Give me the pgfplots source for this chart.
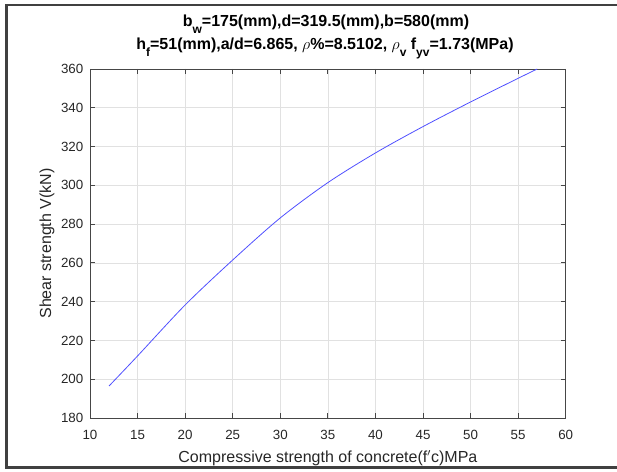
\documentclass[border=0pt]{standalone}
\usepackage{pgfplots}
\pgfplotsset{compat=1.18}
\usepackage{fontspec}
\setmainfont{Liberation Sans}
\definecolor{axgray}{RGB}{70,70,70}
\definecolor{txtgray}{RGB}{38,38,38}
\definecolor{gridgray}{RGB}{225,225,225}
\definecolor{curve}{RGB}{80,80,255}
\newcommand\tsub[1]{\raisebox{-5.3pt}{\fontsize{9}{10}\selectfont #1}}
\begin{document}
\begin{tikzpicture}[x=0.75pt,y=0.75pt]
\useasboundingbox (0,0) rectangle (617,471);
% window frame
\draw[line width=2pt, black!75, line cap=rect] (617,466) -- (6.5,466) -- (6.5,3.5) -- (617,3.5);
\begin{axis}[
  at={(67.5pt,39.75pt)}, anchor=south west,
  scale only axis,
  width=356.8pt, height=261.75pt,
  xmin=10, xmax=60, ymin=180, ymax=360,
  xtick={10,15,...,60}, ytick={180,200,...,360},
  grid=major,
  major grid style={gridgray, line width=0.5pt},
  axis line style={axgray, line width=0.6pt},
  tick style={axgray, line width=0.6pt},
  tick align=inside,
  major tick length=3.8pt,
  xtick pos=both, ytick pos=both,
  tick label style={font=\fontsize{10}{12}\selectfont, text=txtgray},
  /pgf/number format/assume math mode=true,
  xticklabel style={yshift=-5.5pt},
  yticklabel style={xshift=-1.5pt},
  xlabel={Compressive strength of concrete(f$'$c)MPa},
  ylabel={Shear strength V(kN)},
  label style={font=\fontsize{12}{14}\selectfont, text=txtgray},
  xlabel style={at={(axis description cs:0.5,0)}, anchor=base, yshift=-33.4pt},
  ylabel style={yshift=-2pt},
  clip=true,
]
\addplot[curve, line width=0.6pt, smooth] coordinates {
(12.0,196.5) (15,212.0) (20,238.3) (25,261.5) (30,283.2) (35,301.4)
(40,316.7) (45,330.3) (50,343.0) (55,355.2) (57.0,360.0)
};
\end{axis}
\node[font=\bfseries\fontsize{12}{14}\selectfont, text=black, anchor=base] at (326,444.3) {b\tsub{w}=175(mm),d=319.5(mm),b=580(mm)};
\node[font=\bfseries\fontsize{12}{14}\selectfont, text=black, anchor=base] at (325,421.7) {h\tsub{f}=51(mm),a/d=6.865, $\rho$\%=8.5102, $\rho$\tsub{v} f\tsub{yv}=1.73(MPa)};
\end{tikzpicture}
\end{document}
